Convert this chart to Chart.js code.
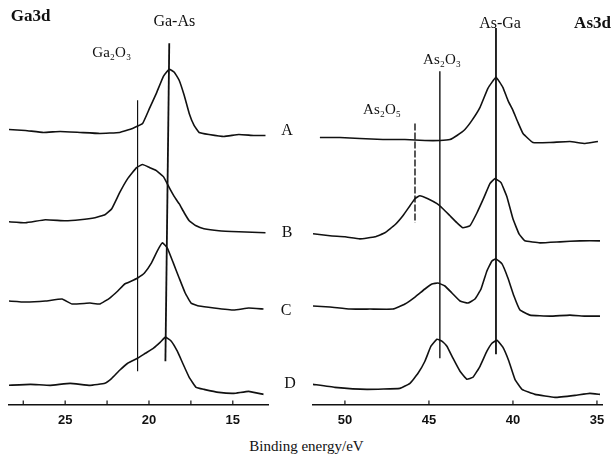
<!DOCTYPE html>
<html>
<head>
<meta charset="utf-8">
<script src="https://cdn.jsdelivr.net/npm/chart.js@4.4.0/dist/chart.umd.min.js"></script>
<style>
  body { margin: 0; background: #fff; }
  .wrap { position: relative; width: 613px; height: 466px; }
  .panel { position: absolute; top: 0; height: 436px; }
  #ga { left: 0; width: 300px; }
  #as { left: 300px; width: 313px; }
  .xtitle {
    position: absolute; left: 0; width: 613px; top: 438px;
    text-align: center; font: 15px "Liberation Serif", serif; color: #111;
  }
</style>
</head>
<body>
<div class="wrap">
  <div class="panel" id="ga"><canvas id="gaChart"></canvas></div>
  <div class="panel" id="as"><canvas id="asChart"></canvas></div>
  <div class="xtitle">Binding energy/eV</div>
</div>
<script>
// ---- Ga3d spectra (binding energy eV / intensity a.u.) ----
const gaEnergyA = [28.37, 27.37, 26.3, 25.3, 24.11, 22.93, 21.75, 20.98, 20.38, 19.97, 19.56, 19.14, 18.79, 18.49, 18.2, 17.9, 17.6, 17.31, 17.01, 16.42, 15.53, 14.64, 13.76, 13.05];
const gaIntA = [274, 273, 271, 272, 271, 270, 271, 275, 280, 295, 310, 327, 334, 331, 323, 308, 290, 278, 271, 269, 267, 269, 268, 268];

const gaEnergyB = [28.37, 27.37, 26.18, 25.0, 24.11, 23.22, 22.63, 22.22, 21.75, 21.27, 20.74, 20.38, 19.97, 19.56, 19.14, 18.79, 18.49, 18.2, 17.9, 17.6, 17.19, 16.72, 15.83, 14.64, 13.05];
const gaIntB = [182, 181, 184, 183, 184, 186, 189, 195, 211, 225, 236, 239, 236, 233, 227, 216, 207, 200, 191, 183, 178, 175, 173, 172, 171];

const gaEnergyC = [28.37, 27.37, 26.18, 25.18, 24.59, 23.52, 22.93, 22.34, 21.86, 21.45, 21.04, 20.68, 20.27, 19.85, 19.5, 19.2, 18.91, 18.55, 18.2, 17.84, 17.49, 17.01, 16.12, 14.94, 14.05, 13.17];
const gaIntC = [103, 102, 103, 105, 100, 101, 100, 106, 113, 120, 123, 126, 131, 141, 153, 161, 156, 141, 126, 111, 101, 98, 96, 94, 96, 95];

const gaEnergyD = [28.37, 27.07, 25.89, 24.7, 23.52, 22.63, 22.22, 21.75, 21.27, 20.68, 20.21, 19.73, 19.32, 19.02, 18.67, 18.31, 17.96, 17.6, 17.19, 16.72, 15.83, 14.94, 14.05, 13.17];
const gaIntD = [19, 20, 19, 21, 19, 21, 26, 34, 41, 46, 51, 56, 62, 67, 63, 53, 40, 27, 17, 15, 12, 11, 13, 10];

// ---- As3d spectra ----
const asEnergyA = [51.49, 50.3, 49.11, 47.74, 46.43, 45.24, 44.35, 43.75, 43.33, 42.86, 42.44, 41.96, 41.49, 41.01, 40.6, 40.3, 40.0, 39.7, 39.4, 38.81, 37.8, 36.61, 35.71, 34.94];
const asIntA = [266, 266, 265, 264, 264, 263, 263, 264, 268, 274, 283, 296, 315, 326, 316, 303, 293, 281, 270, 261, 261, 262, 260, 262];

const asEnergyB = [51.9, 50.89, 50.0, 49.11, 48.21, 47.62, 47.02, 46.55, 46.13, 45.83, 45.54, 45.06, 44.52, 44.17, 43.75, 43.33, 42.98, 42.56, 42.14, 41.73, 41.37, 41.07, 40.71, 40.36, 40.0, 39.64, 39.29, 38.39, 37.2, 36.01, 34.82];
const asIntB = [170, 168, 167, 165, 167, 171, 179, 188, 198, 205, 208, 205, 200, 195, 188, 181, 176, 178, 191, 206, 220, 225, 221, 207, 185, 170, 163, 161, 162, 163, 163];

const asEnergyC = [51.9, 50.89, 49.7, 48.51, 47.14, 46.43, 45.83, 45.24, 44.82, 44.46, 44.05, 43.63, 43.15, 42.68, 42.26, 41.9, 41.55, 41.25, 41.01, 40.65, 40.3, 39.94, 39.58, 38.99, 37.8, 36.61, 35.71, 34.82];
const asIntC = [98, 97, 95, 95, 95, 100, 107, 115, 120, 121, 118, 111, 103, 101, 105, 115, 133, 143, 145, 140, 126, 108, 94, 89, 88, 89, 88, 88];

const asEnergyD = [51.9, 50.6, 48.69, 46.73, 46.13, 45.65, 45.24, 44.88, 44.52, 44.23, 43.93, 43.57, 43.15, 42.74, 42.38, 41.96, 41.55, 41.25, 40.95, 40.6, 40.24, 39.88, 39.46, 38.69, 37.5, 36.31, 35.42, 34.82];
const asIntD = [20, 17, 15, 16, 21, 31, 43, 58, 65, 63, 58, 46, 33, 25, 27, 38, 53, 61, 64, 57, 43, 25, 15, 10, 7, 9, 11, 10];

// 피크 위치 표시선 (energy start/end, intensity top/bottom)
const gaMarkerNames = ["Ga₂O₃", "Ga-As"];
const gaMarkerEnergy = [[20.68, 20.68], [18.79, 19.02]];
const gaMarkerInt = [[303, 33], [360, 43]];

const asMarkerNames = ["As₂O₅", "As₂O₃", "As-Ga"];
const asMarkerEnergy = [[45.83, 45.83], [44.35, 44.35], [41.01, 41.01]];
const asMarkerInt = [[280, 181], [332, 46], [375, 50]];

const sampleNames = ["A", "B", "C", "D"];

// ------------------------------------------------------------
const serif = "'Liberation Serif', 'DejaVu Serif', serif";

const toPoints = (xs, ys) => xs.map((x, i) => ({ x: x, y: ys[i] }));

// 글자 + 위로 향하는 눈금 그리기
const panelText = {
  id: "panelText",
  afterDraw(chart, args, opts) {
    const ctx = chart.ctx;
    const x = chart.scales.x;
    const y = chart.scales.y;
    ctx.save();
    ctx.strokeStyle = "#111";
    ctx.lineWidth = 1.2;
    x.ticks.forEach((t) => {
      const px = x.getPixelForValue(t.value);
      ctx.beginPath();
      ctx.moveTo(px, x.top);
      ctx.lineTo(px, x.top - 4);
      ctx.stroke();
    });
    ctx.fillStyle = "#111";
    ctx.textBaseline = "middle";
    opts.labels.forEach((l) => {
      ctx.font = l.font;
      ctx.textAlign = l.align || "center";
      ctx.fillText(l.text, x.getPixelForValue(l.x), y.getPixelForValue(l.y));
    });
    ctx.restore();
  },
};

const makePanel = (canvasId, curves, markers, xr, step, padding, labels) => {
  const datasets = [];
  curves.forEach((c) => {
    datasets.push({
      data: toPoints(c[0], c[1]),
      borderColor: "#111",
      borderWidth: 1.6,
      pointRadius: 0,
      tension: 0.1,
    });
  });
  markers.forEach((m) => {
    datasets.push({
      label: m.name,
      data: toPoints(m.e, m.v),
      borderColor: "#111",
      borderWidth: m.w,
      borderDash: m.dash || [],
      pointRadius: 0,
    });
  });

  return new Chart(document.getElementById(canvasId), {
    type: "line",
    data: { datasets: datasets },
    plugins: [panelText],
    options: {
      responsive: true,
      maintainAspectRatio: false,
      animation: false,
      layout: { padding: padding },
      plugins: {
        legend: { display: false },
        tooltip: { enabled: false },
        panelText: { labels: labels },
      },
      scales: {
        x: {
          type: "linear",
          reverse: true,
          min: xr[0],
          max: xr[1],
          grid: { display: false, drawTicks: false },
          border: { display: true, color: "#111", width: 1.6 },
          ticks: {
            stepSize: step,
            includeBounds: false,
            autoSkip: false,
            maxRotation: 0,
            padding: 8,
            color: "#111",
            font: { family: "'Liberation Sans', Arial, sans-serif", size: 13, weight: "bold" },
            callback: (v) => (v % 5 === 0 ? String(v) : ""),
          },
        },
        y: { display: false, min: 0, max: 403 },
      },
    },
  });
};

const gaCurves = [[gaEnergyA, gaIntA], [gaEnergyB, gaIntB], [gaEnergyC, gaIntC], [gaEnergyD, gaIntD]];
const gaMarkers = gaMarkerNames.map((n, i) => ({ name: n, e: gaMarkerEnergy[i], v: gaMarkerInt[i], w: i === 0 ? 1.2 : 1.8 }));

makePanel("gaChart", gaCurves, gaMarkers, [12.9, 28.35], 2.5, { left: 9, right: 32, top: 0, bottom: 0 }, [
  { text: "Ga3d", x: 28.25, y: 386, align: "left", font: "bold 17px " + serif },
  { text: "Ga-As", x: 18.49, y: 381, font: "16px " + serif },
  { text: "Ga₂O₃", x: 22.22, y: 350, font: "15px " + serif },
  { text: sampleNames[0], x: 11.76, y: 273, font: "16px " + serif },
  { text: sampleNames[1], x: 11.76, y: 171, font: "16px " + serif },
  { text: sampleNames[2], x: 11.82, y: 93, font: "16px " + serif },
  { text: sampleNames[3], x: 11.58, y: 21, font: "16px " + serif },
]);

const asCurves = [[asEnergyA, asIntA], [asEnergyB, asIntB], [asEnergyC, asIntC], [asEnergyD, asIntD]];
const asMarkers = asMarkerNames.map((n, i) => ({
  name: n,
  e: asMarkerEnergy[i],
  v: asMarkerInt[i],
  w: i === 2 ? 1.8 : 1.4,
  dash: i === 0 ? [7, 2] : [],
}));

makePanel("asChart", asCurves, asMarkers, [34.7, 51.9], 5, { left: 13, right: 11, top: 0, bottom: 0 }, [
  { text: "As-Ga", x: 40.77, y: 379, font: "16px " + serif },
  { text: "As3d", x: 36.36, y: 379, align: "left", font: "bold 17px " + serif },
  { text: "As₂O₃", x: 44.22, y: 343, font: "15px " + serif },
  { text: "As₂O₅", x: 47.79, y: 293, font: "15px " + serif },
]);
</script>
</body>
</html>
